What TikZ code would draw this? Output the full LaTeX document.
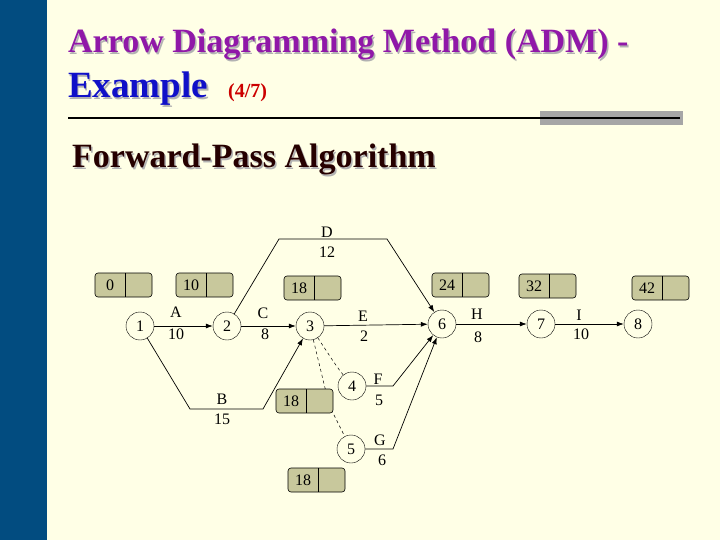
\documentclass[tikz,border=0pt]{standalone}
\usepackage{fontspec}
\setmainfont{Liberation Serif}
\usetikzlibrary{arrows.meta}
\definecolor{bg}{HTML}{FFFFE6}
\definecolor{bar}{HTML}{024C80}
\definecolor{boxf}{HTML}{C8C89C}
\definecolor{ttl}{HTML}{9018A8}
\definecolor{ttb}{HTML}{1010C8}
\tikzset{
 ev/.style={circle,draw,fill=bg,minimum size=28pt,inner sep=0pt,font=\fontsize{16}{16}\selectfont},
 lab/.style={font=\fontsize{16}{16}\selectfont,inner sep=1pt},
 act/.style={-{Latex[length=7pt,width=5pt]},line width=0.7pt},
 dum/.style={dashed,line width=0.5pt},
}
\newcommand{\ebox}[3]{%
 \draw[rounded corners=3pt,fill=boxf,line width=0.6pt] (#1,#2) rectangle ++(57,24);
 \draw[line width=0.6pt] (#1+30,#2) -- ++(0,24);
 \node[lab] at (#1+15,#2+12) {#3};}
\begin{document}
\begin{tikzpicture}[x=1pt,y=-1pt]
\fill[bg] (0,0) rectangle (720,540);
\useasboundingbox (0,0) rectangle (720,540);
\fill[bar] (0,0) rectangle (47,540);
% titles
\foreach \dx/\c in {1.5/gray!60,0/ttl}
 \node[anchor=base west,text=\c,font=\fontsize{34}{34}\bfseries\selectfont,inner sep=0,yscale=-0.85,xscale=1] at (68+\dx,53+\dx) {};
\foreach \dx/\c in {1.5/gray!60,0/ttl}
 \node[anchor=base west,text=\c,font=\fontsize{34}{34}\bfseries\selectfont,inner sep=0] at (68+\dx,53+\dx) {Arrow Diagramming Method (ADM) -};
\foreach \dx/\c in {1.5/gray!60,0/ttb}
 \node[anchor=base west,text=\c,font=\fontsize{37}{37}\bfseries\selectfont,inner sep=0] at (68+\dx,98+\dx) {Example};
\node[anchor=base west,text=red!80!black,font=\fontsize{20}{20}\bfseries\selectfont,inner sep=0] at (228,98) {(4/7)};
\fill[gray!70] (540,111) rectangle (683,125);
\draw[line width=1.5pt] (68,118) -- (680,118);
\foreach \dx/\c in {1.5/gray!60,0/black!85!red}
 \node[anchor=base west,text=\c,font=\fontsize{34}{34}\bfseries\selectfont,inner sep=0] at (72+\dx,168+\dx) {Forward-Pass Algorithm};
% events
\node[ev] (n1) at (140,326) {1};
\node[ev] (n2) at (227,326) {2};
\node[ev] (n3) at (310,326) {3};
\node[ev] (n4) at (352,386) {4};
\node[ev] (n5) at (351,449) {5};
\node[ev] (n6) at (442,324) {6};
\node[ev] (n7) at (541,324) {7};
\node[ev] (n8) at (638,324) {8};
\coordinate (d1) at (279,239); \coordinate (d2) at (387,239);
\coordinate (b1) at (190,409); \coordinate (b2) at (263,409);
\coordinate (f1) at (393,386); \coordinate (g1) at (393,449);
\coordinate (k4) at (337,367); \coordinate (k5) at (325,388); \coordinate (k6) at (333,413);
% dummies
\draw[dum] (n3) .. controls (k4) .. (n4);
\draw[dum] (n3) -- (k5) -- (k6) -- (n5);
% activities
\draw[act] (n1) -- (n2);
\draw[act] (n2) -- (n3);
\draw[act] (n3) -- (n6);
\draw[act] (n6) -- (n7);
\draw[act] (n7) -- (n8);
\draw[act] (n2) -- (d1) -- (d2) -- (n6);
\draw[act] (n1) -- (b1) -- (b2) -- (n3);
\draw[act] (n4) -- (f1) -- (n6);
\draw[act] (n5) -- (g1) -- (n6);
% labels
\node[lab] at (327,232) {D}; \node[lab] at (327,252) {12};
\node[lab] at (176,312) {A}; \node[lab] at (176,334) {10};
\node[lab] at (263,313) {C}; \node[lab] at (265,334) {8};
\node[lab] at (363,316) {E}; \node[lab] at (364,336) {2};
\node[lab] at (477,314) {H}; \node[lab] at (478,337) {8};
\node[lab] at (579,315) {I}; \node[lab] at (581,334) {10};
\node[lab] at (222,399) {B}; \node[lab] at (222,419) {15};
\node[lab] at (378,379) {F}; \node[lab] at (379,400) {5};
\node[lab] at (380,440) {G}; \node[lab] at (382,460) {6};
% boxes
\ebox{95}{273}{0}
\ebox{176}{273}{10}
\ebox{284}{276}{18}
\ebox{432}{273}{24}
\ebox{519}{274}{32}
\ebox{632}{276}{42}
\ebox{276}{389}{18}
\ebox{288}{468}{18}
\end{tikzpicture}
\end{document}
